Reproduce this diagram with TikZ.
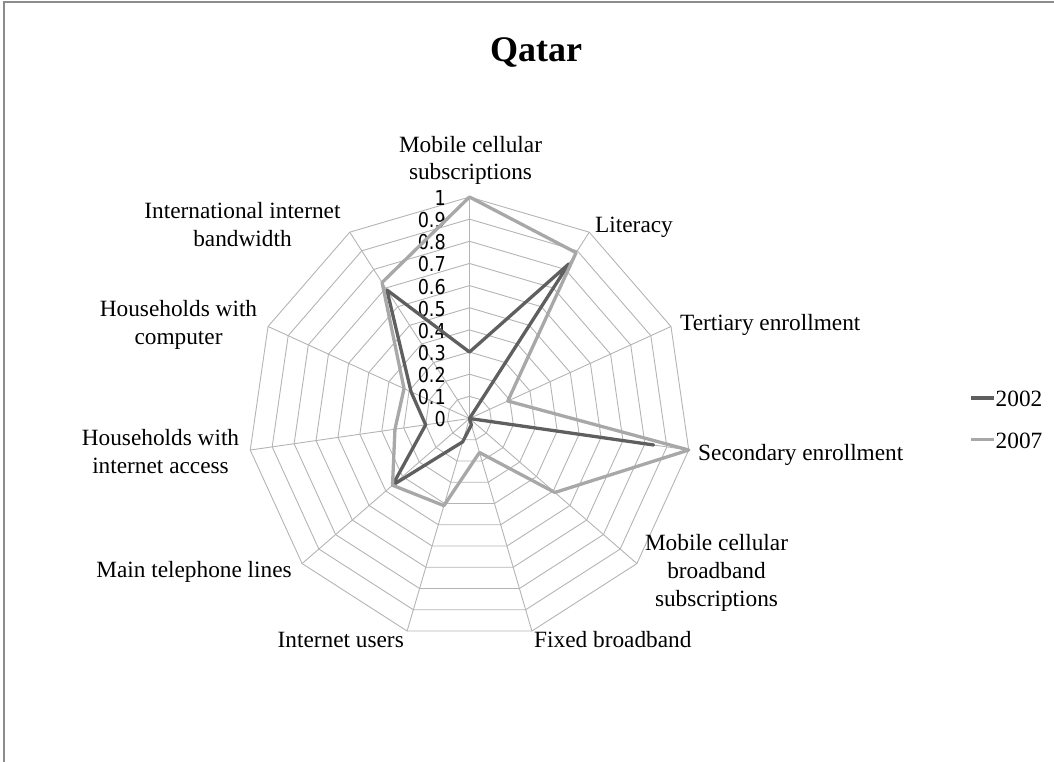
\documentclass[tikz,border=0pt]{standalone}
\usepackage{fontspec}
\setmainfont{Liberation Serif}
\newfontfamily\tickfont{DejaVu Sans}[FakeStretch=0.86]
\definecolor{gridgray}{RGB}{180,180,180}
\definecolor{darkser}{RGB}{95,95,95}
\definecolor{lightser}{RGB}{168,168,168}
\definecolor{framegray}{RGB}{140,140,140}
\begin{document}
\begin{tikzpicture}[x=1pt,y=-1pt,
  gridline/.style={draw=gridgray,line width=0.9pt},
  series/.style={line width=3.3pt,line join=round,line cap=round},
  ser2002/.style={series,draw=darkser},
  ser2007/.style={series,draw=lightser},
  axislabel/.style={font=\fontsize{23.3}{28}\selectfont,inner sep=0pt,align=center,anchor=base},
  ticklabel/.style={font=\tickfont\fontsize{20.5}{22}\selectfont,inner sep=0pt,anchor=east},
  legendtext/.style={font=\fontsize{23.3}{28}\selectfont,inner sep=0pt,anchor=base west},
]
\useasboundingbox (0,0) rectangle (1054,762);
% outer frame
\draw[framegray,line width=1.5pt] (4,762) -- (4,2) -- (1054,2);

% title
\node[font=\fontsize{36}{40}\selectfont\bfseries,inner sep=0pt,anchor=base] (title) at (536,62) {Qatar};

% radar grid: ten rings and eleven spokes
\coordinate (ctr) at (469.5,418.5);
\foreach \i in {1,...,10}
  \draw[gridline] (469.5,{418.5-22.15*\i})
    \foreach \k in {1,...,10} { -- ({469.5+22.15*\i*sin(\k*360/11)},{418.5-22.15*\i*cos(\k*360/11)}) } -- cycle;
\foreach \k in {0,...,10}
  \draw[gridline] (ctr) -- ({469.5+221.5*sin(\k*360/11)},{418.5-221.5*cos(\k*360/11)});

% scale values on the vertical axis
\foreach \t/\lab in {0/0,1/0.1,2/0.2,3/0.3,4/0.4,5/0.5,6/0.6,7/0.7,8/0.8,9/0.9,10/1}
  \node[ticklabel] (tick\t) at (446,{419.5-22.15*\t}) {\lab};

% data points
\foreach \v [count=\k from 0] in {0.30,0.83,0.0,0.84,0.0,0.03,0.11,0.46,0.20,0.29,0.69}
  \coordinate (d\k) at ({469.5+221.5*\v*sin(\k*360/11)},{418.5-221.5*\v*cos(\k*360/11)});
\foreach \v [count=\k from 0] in {1.0,0.89,0.19,1.0,0.51,0.16,0.41,0.46,0.34,0.325,0.73}
  \coordinate (e\k) at ({469.5+221.5*\v*sin(\k*360/11)},{418.5-221.5*\v*cos(\k*360/11)});

\draw[ser2002] (d0) -- (d1) -- (d2) -- (d3) -- (d4) -- (d5) -- (d6) -- (d7) -- (d8) -- (d9) -- (d10) -- cycle;
\draw[ser2007] (e0) -- (e1) -- (e2) -- (e3) -- (e4) -- (e5) -- (e6) -- (e7) -- (e8) -- (e9) -- (e10) -- cycle;

% category labels (base = baseline of the last line)
\node[axislabel] (mobsub) at (470.5,180) {Mobile cellular\\subscriptions};
\node[axislabel,anchor=base west] (lit) at (595,232) {Literacy};
\node[axislabel,anchor=base west] (tert) at (680,330) {Tertiary enrollment};
\node[axislabel,anchor=base west] (sec) at (698,460) {Secondary enrollment};
\node[axislabel] (mobbb) at (716.5,606) {Mobile cellular\\broadband\\subscriptions};
\node[axislabel,anchor=base west] (fixed) at (534,647) {Fixed broadband};
\node[axislabel,anchor=base east] (inet) at (404,647) {Internet users};
\node[axislabel] (tel) at (194,577.5) {Main telephone lines};
\node[axislabel] (hhnet) at (160.5,473) {Households with\\internet access};
\node[axislabel] (hhcomp) at (178.5,344) {Households with\\computer};
\node[axislabel] (intl) at (242.5,246) {International internet\\bandwidth};

% legend
\node[legendtext] (leg02) at (995.5,406.5) {2002};
\node[legendtext] (leg07) at (995.5,448) {2007};
\draw[ser2002,line cap=butt] (971,398) -- (994,398);
\draw[ser2007,line cap=butt] (971,439.5) -- (994,439.5);
\end{tikzpicture}
\end{document}
